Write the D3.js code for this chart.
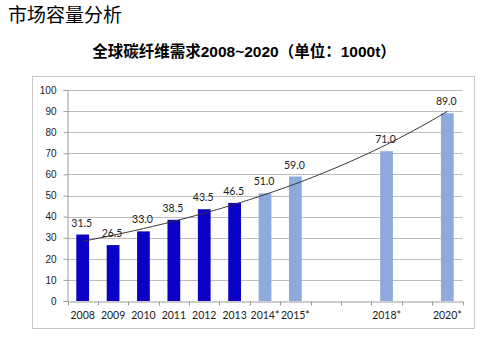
<!DOCTYPE html>
<html>
<head>
<meta charset="utf-8">
<script src="https://cdn.jsdelivr.net/npm/d3@7"></script>
<style>
  body { margin: 0; background: #fff; }
  svg { display: block; }
</style>
</head>
<body>
<div id="chart"></div>
<script>
// 全球碳纤维需求 bar chart + exponential trendline
const years = ["2008", "2009", "2010", "2011", "2012", "2013", "2014*", "2015*", "2016", "2017", "2018*", "2019", "2020*"];
const shownLabels = ["2008", "2009", "2010", "2011", "2012", "2013", "2014*", "2015*", "", "", "2018*", "", "2020*"];
const demand = [31.5, 26.5, 33.0, 38.5, 43.5, 46.5, 51.0, 59.0, null, null, 71.0, null, 89.0];
const forecast = [false, false, false, false, false, false, true, true, false, false, true, false, true];
const yTicks = [0, 10, 20, 30, 40, 50, 60, 70, 80, 90, 100];

const W = 496, H = 350;
const plot = { left: 67.5, right: 462.5, top: 90, bottom: 301 };

const svg = d3.select("#chart").append("svg")
  .attr("width", W)
  .attr("height", H);

// titles
svg.append("text")
  .attr("x", 8).attr("y", 22)
  .style("font-family", "'Noto Sans CJK SC'")
  .style("font-size", "19px")
  .attr("fill", "#000")
  .text("市场容量分析");

svg.append("text")
  .attr("x", 244).attr("y", 57)
  .attr("text-anchor", "middle")
  .style("font-family", "'Liberation Sans', 'Noto Sans CJK SC'")
  .style("font-size", "15.5px")
  .style("font-weight", "bold")
  .attr("fill", "#000")
  .text("全球碳纤维需求2008~2020（单位：1000t）");

// chart frame
svg.append("rect")
  .attr("x", 32.5).attr("y", 76.5)
  .attr("width", 442).attr("height", 252)
  .attr("fill", "none")
  .attr("stroke", "#c6c6c6");

const x = d3.scaleBand().domain(years).range([plot.left, plot.right]).paddingInner(0.58).paddingOuter(0.29);
const xb = d3.scaleBand().domain(years).range([plot.left, plot.right]);
const y = d3.scaleLinear().domain([0, 100]).range([plot.bottom, plot.top]);

// gridlines
svg.append("g")
  .selectAll("line")
  .data(yTicks.filter(d => d > 0))
  .join("line")
  .attr("x1", plot.left).attr("x2", plot.right)
  .attr("y1", d => Math.round(y(d)) + 0.5)
  .attr("y2", d => Math.round(y(d)) + 0.5)
  .attr("stroke", "#bdbdbd");

// y axis
const yAxis = svg.append("g")
  .attr("transform", `translate(${plot.left},0)`)
  .call(d3.axisLeft(y).tickValues(yTicks).tickSize(4).tickPadding(7));
yAxis.select(".domain").attr("stroke", "#9a9a9a");
yAxis.selectAll(".tick line").attr("stroke", "#9a9a9a");
yAxis.selectAll("text")
  .style("font-family", "'Liberation Sans'")
  .style("font-size", "10px")
  .attr("fill", "#1a1a1a");

// bars
const data = years.map((yr, i) => ({ yr, v: demand[i], f: forecast[i] })).filter(d => d.v !== null);

svg.append("g")
  .selectAll("rect")
  .data(data)
  .join("rect")
  .attr("x", d => x(d.yr))
  .attr("width", x.bandwidth())
  .attr("y", d => y(d.v))
  .attr("height", d => y(0) - y(d.v))
  .attr("fill", d => d.f ? "#8eaadc" : "#0b00c6");

// x axis
const xAxis = svg.append("g")
  .attr("transform", `translate(0,${plot.bottom + 0.5})`)
  .call(d3.axisBottom(xb).tickSize(0).tickPadding(10).tickFormat((d, i) => shownLabels[i]));
xAxis.select(".domain").attr("stroke", "#9a9a9a");
xAxis.selectAll("text")
  .style("font-family", "Lato, 'Open Sans'")
  .style("font-size", "10.5px")
  .attr("fill", "#1a1a1a");
// tick marks between categories
xAxis.append("g")
  .selectAll("line")
  .data(years.concat(["end"]))
  .join("line")
  .attr("x1", (d, i) => Math.round(plot.left + i * xb.bandwidth()) + 0.5)
  .attr("x2", (d, i) => Math.round(plot.left + i * xb.bandwidth()) + 0.5)
  .attr("y1", 0).attr("y2", 4)
  .attr("stroke", "#9a9a9a");

// exponential trendline fitted from the data (least squares on ln y)
const pts = years.map((yr, i) => [i, demand[i]]).filter(d => d[1] !== null);
const mt = d3.mean(pts, d => d[0]);
const ml = d3.mean(pts, d => Math.log(d[1]));
const b = d3.sum(pts, d => (d[0] - mt) * (Math.log(d[1]) - ml)) / d3.sum(pts, d => (d[0] - mt) ** 2);
const a = Math.exp(ml - b * mt);
const trend = d3.range(0, 12.01, 0.1).map(t => [t, a * Math.exp(b * t)]);
const cx = t => xb(years[0]) + xb.bandwidth() / 2 + t * xb.bandwidth();

svg.append("path")
  .datum(trend)
  .attr("fill", "none")
  .attr("stroke", "#333")
  .attr("stroke-width", 1)
  .attr("d", d3.line().x(d => cx(d[0])).y(d => y(d[1])));

// value labels
svg.append("g")
  .selectAll("text")
  .data(data)
  .join("text")
  .attr("x", d => x(d.yr) + x.bandwidth() / 2 - 1)
  .attr("y", d => y(d.v) - 8)
  .attr("text-anchor", "middle")
  .style("font-family", "Lato, 'Open Sans'")
  .style("font-size", "10.5px")
  .attr("fill", "#1a1a1a")
  .text(d => d.v.toFixed(1));
</script>
</body>
</html>
